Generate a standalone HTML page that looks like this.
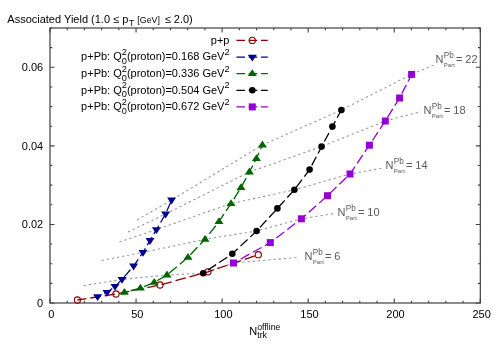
<!DOCTYPE html>
<html><head><meta charset="utf-8"><title>Associated Yield</title>
<style>
html,body{margin:0;padding:0;background:#fff;}
svg{display:block;will-change:transform;}
text{font-family:"Liberation Sans",sans-serif;}
</style></head><body>
<svg width="500" height="350" viewBox="0 0 500 350">
<rect width="500" height="350" fill="#fff"/>
<g opacity="0.999">
<g fill="none" stroke="#999" stroke-width="1.1" stroke-dasharray="2.3 2.9">
<polyline points="83.6,285.6 122,279.4 167,275 203.2,273.2 233.5,263 298,257.4"/>
<polyline points="101.6,260.5 143,252.4 205,239.3 256.6,231 301.4,218.8 334,213.6"/>
<polyline points="119.4,242 156.4,229.6 231,203.6 294.4,189.8 350,174 383,168"/>
<polyline points="128,232 165.6,214 249.4,172 321.6,146.6 385.3,121 421,111.6"/>
<polyline points="137,220 171.6,200 262.4,145 341.4,110 411.6,74.4 434,65"/>
</g>
<g stroke="#404040" stroke-width="1.1" fill="none">
<path d="M50.00 303.0v-4.5M50.00 28.0v4.5"/>
<path d="M67.21 303.0v-2.3M67.21 28.0v2.3"/>
<path d="M84.42 303.0v-2.3M84.42 28.0v2.3"/>
<path d="M101.64 303.0v-2.3M101.64 28.0v2.3"/>
<path d="M118.85 303.0v-2.3M118.85 28.0v2.3"/>
<path d="M136.06 303.0v-4.5M136.06 28.0v4.5"/>
<path d="M153.27 303.0v-2.3M153.27 28.0v2.3"/>
<path d="M170.48 303.0v-2.3M170.48 28.0v2.3"/>
<path d="M187.70 303.0v-2.3M187.70 28.0v2.3"/>
<path d="M204.91 303.0v-2.3M204.91 28.0v2.3"/>
<path d="M222.12 303.0v-4.5M222.12 28.0v4.5"/>
<path d="M239.33 303.0v-2.3M239.33 28.0v2.3"/>
<path d="M256.54 303.0v-2.3M256.54 28.0v2.3"/>
<path d="M273.76 303.0v-2.3M273.76 28.0v2.3"/>
<path d="M290.97 303.0v-2.3M290.97 28.0v2.3"/>
<path d="M308.18 303.0v-4.5M308.18 28.0v4.5"/>
<path d="M325.39 303.0v-2.3M325.39 28.0v2.3"/>
<path d="M342.60 303.0v-2.3M342.60 28.0v2.3"/>
<path d="M359.82 303.0v-2.3M359.82 28.0v2.3"/>
<path d="M377.03 303.0v-2.3M377.03 28.0v2.3"/>
<path d="M394.24 303.0v-4.5M394.24 28.0v4.5"/>
<path d="M411.45 303.0v-2.3M411.45 28.0v2.3"/>
<path d="M428.66 303.0v-2.3M428.66 28.0v2.3"/>
<path d="M445.88 303.0v-2.3M445.88 28.0v2.3"/>
<path d="M463.09 303.0v-2.3M463.09 28.0v2.3"/>
<path d="M480.30 303.0v-4.5M480.30 28.0v4.5"/>
<path d="M50.0 303.00h4.5M480.3 303.00h-4.5"/>
<path d="M50.0 283.36h2.3M480.3 283.36h-2.3"/>
<path d="M50.0 263.71h2.3M480.3 263.71h-2.3"/>
<path d="M50.0 244.07h2.3M480.3 244.07h-2.3"/>
<path d="M50.0 224.43h4.5M480.3 224.43h-4.5"/>
<path d="M50.0 204.79h2.3M480.3 204.79h-2.3"/>
<path d="M50.0 185.14h2.3M480.3 185.14h-2.3"/>
<path d="M50.0 165.50h2.3M480.3 165.50h-2.3"/>
<path d="M50.0 145.86h4.5M480.3 145.86h-4.5"/>
<path d="M50.0 126.21h2.3M480.3 126.21h-2.3"/>
<path d="M50.0 106.57h2.3M480.3 106.57h-2.3"/>
<path d="M50.0 86.93h2.3M480.3 86.93h-2.3"/>
<path d="M50.0 67.29h4.5M480.3 67.29h-4.5"/>
<path d="M50.0 47.64h2.3M480.3 47.64h-2.3"/>
<path d="M50.0 28.00h2.3M480.3 28.00h-2.3"/>
<rect x="50.0" y="28.0" width="430.3" height="275.0" stroke-width="1.2"/>
</g>
<g font-size="11" fill="#000">
<text x="51.30" y="318.4" text-anchor="middle">0</text>
<text x="137.36" y="318.4" text-anchor="middle">50</text>
<text x="223.42" y="318.4" text-anchor="middle">100</text>
<text x="309.48" y="318.4" text-anchor="middle">150</text>
<text x="395.54" y="318.4" text-anchor="middle">200</text>
<text x="481.60" y="318.4" text-anchor="middle">250</text>
<text x="43.2" y="307.00" text-anchor="end">0</text>
<text x="43.2" y="228.43" text-anchor="end">0.02</text>
<text x="43.2" y="149.86" text-anchor="end">0.04</text>
<text x="43.2" y="71.29" text-anchor="end">0.06</text>
</g>
<text x="7.3" y="22.6" font-size="11" fill="#000">Associated Yield (1.0 ≤ p<tspan font-size="8.8" dx="0.8" dy="3.3">T</tspan><tspan font-size="8.8" dx="0.6" dy="-2.9"> [GeV]</tspan><tspan dx="1.8" dy="-0.4"> ≤ 2.0)</tspan></text>
<text x="249.2" y="334.8" font-size="11" fill="#000">N<tspan font-size="8.8" dy="-5.2">offline</tspan></text>
<text x="257.2" y="338" font-size="8.8" fill="#000">trk</text>
<polyline fill="none" points="77.4,300 116,294 160,285 208,271.8 258.3,254.7" stroke="#8b0000" stroke-width="1.3" stroke-dasharray="10.5 4" stroke-dashoffset="1.4"/>
<circle cx="77.4" cy="300" r="3.1" fill="none" stroke="#8b0000" stroke-width="1.1"/>
<circle cx="116" cy="294" r="3.1" fill="none" stroke="#8b0000" stroke-width="1.1"/>
<circle cx="160" cy="285" r="3.1" fill="none" stroke="#8b0000" stroke-width="1.1"/>
<circle cx="208" cy="271.8" r="3.1" fill="none" stroke="#8b0000" stroke-width="1.1"/>
<circle cx="258.3" cy="254.7" r="3.1" fill="none" stroke="#8b0000" stroke-width="1.1"/>
<polyline fill="none" points="97.6,296.6 107,292.4 115,286.4 122,279.4 133.6,266 143,252.4 150,240.5 156.4,229.6 165.6,214 171.6,200" stroke="#00008b" stroke-width="1.3" stroke-dasharray="9.4 3.7" stroke-dashoffset="5.7"/>
<path d="M93.10 294.20L102.10 294.20L97.60 301.00Z" fill="#00008b"/>
<path d="M102.50 290.00L111.50 290.00L107.00 296.80Z" fill="#00008b"/>
<path d="M110.50 284.00L119.50 284.00L115.00 290.80Z" fill="#00008b"/>
<path d="M117.50 277.00L126.50 277.00L122.00 283.80Z" fill="#00008b"/>
<path d="M129.10 263.60L138.10 263.60L133.60 270.40Z" fill="#00008b"/>
<path d="M138.50 250.00L147.50 250.00L143.00 256.80Z" fill="#00008b"/>
<path d="M145.50 238.10L154.50 238.10L150.00 244.90Z" fill="#00008b"/>
<path d="M151.90 227.20L160.90 227.20L156.40 234.00Z" fill="#00008b"/>
<path d="M161.10 211.60L170.10 211.60L165.60 218.40Z" fill="#00008b"/>
<path d="M167.10 197.60L176.10 197.60L171.60 204.40Z" fill="#00008b"/>
<polyline fill="none" points="124.4,292.4 140.4,288.2 154.2,282.4 167,275 188,257.3 205,239.3 219,221.6 231,203.6 241,187.6 249.4,172 256.4,158.6 262.4,145" stroke="#006400" stroke-width="1.3" stroke-dasharray="10.25 3.9" stroke-dashoffset="7.65"/>
<path d="M119.90 294.80L128.90 294.80L124.40 288.00Z" fill="#006400"/>
<path d="M135.90 290.60L144.90 290.60L140.40 283.80Z" fill="#006400"/>
<path d="M149.70 284.80L158.70 284.80L154.20 278.00Z" fill="#006400"/>
<path d="M162.50 277.40L171.50 277.40L167.00 270.60Z" fill="#006400"/>
<path d="M183.50 259.70L192.50 259.70L188.00 252.90Z" fill="#006400"/>
<path d="M200.50 241.70L209.50 241.70L205.00 234.90Z" fill="#006400"/>
<path d="M214.50 224.00L223.50 224.00L219.00 217.20Z" fill="#006400"/>
<path d="M226.50 206.00L235.50 206.00L231.00 199.20Z" fill="#006400"/>
<path d="M236.50 190.00L245.50 190.00L241.00 183.20Z" fill="#006400"/>
<path d="M244.90 174.40L253.90 174.40L249.40 167.60Z" fill="#006400"/>
<path d="M251.90 161.00L260.90 161.00L256.40 154.20Z" fill="#006400"/>
<path d="M257.90 147.40L266.90 147.40L262.40 140.60Z" fill="#006400"/>
<polyline fill="none" points="203.2,273.2 232.3,253.8 256.6,231 277.4,208.4 294.4,189.8 309.6,169.6 321.6,146.6 332.4,126.6 341.4,110" stroke="#000000" stroke-width="1.3" stroke-dasharray="9.7 3.8" stroke-dashoffset="7.8"/>
<circle cx="203.2" cy="273.2" r="3.3" fill="#000000"/>
<circle cx="232.3" cy="253.8" r="3.3" fill="#000000"/>
<circle cx="256.6" cy="231" r="3.3" fill="#000000"/>
<circle cx="277.4" cy="208.4" r="3.3" fill="#000000"/>
<circle cx="294.4" cy="189.8" r="3.3" fill="#000000"/>
<circle cx="309.6" cy="169.6" r="3.3" fill="#000000"/>
<circle cx="321.6" cy="146.6" r="3.3" fill="#000000"/>
<circle cx="332.4" cy="126.6" r="3.3" fill="#000000"/>
<circle cx="341.4" cy="110" r="3.3" fill="#000000"/>
<polyline fill="none" points="233.5,263 270.3,242.6 301.4,218.8 327.5,195.7 350,174 369.4,145.2 385.3,121 399.6,98 411.6,74.4" stroke="#9400d3" stroke-width="1.3" stroke-dasharray="9.9 3.9" stroke-dashoffset="5.5"/>
<rect x="230.0" y="259.5" width="7" height="7" fill="#9400d3"/>
<rect x="266.8" y="239.1" width="7" height="7" fill="#9400d3"/>
<rect x="297.9" y="215.3" width="7" height="7" fill="#9400d3"/>
<rect x="324.0" y="192.2" width="7" height="7" fill="#9400d3"/>
<rect x="346.5" y="170.5" width="7" height="7" fill="#9400d3"/>
<rect x="365.9" y="141.7" width="7" height="7" fill="#9400d3"/>
<rect x="381.8" y="117.5" width="7" height="7" fill="#9400d3"/>
<rect x="396.1" y="94.5" width="7" height="7" fill="#9400d3"/>
<rect x="408.1" y="70.9" width="7" height="7" fill="#9400d3"/>
<text x="229.5" y="43.6" font-size="11" text-anchor="end">p+p</text>
<path d="M236.4 40.40H267.8" stroke="#8b0000" stroke-width="1.3" stroke-dasharray="8.6 3.7" fill="none"/>
<circle cx="252.3" cy="40.4" r="3.1" fill="none" stroke="#8b0000" stroke-width="1.1"/>
<text x="229.6" y="60.3" font-size="11" text-anchor="end">p+Pb: Q<tspan font-size="9.2" dy="-5.2">2</tspan><tspan font-size="9.2" dx="-5.1" dy="9">0</tspan><tspan dy="-3.8">(proton)=0.168 GeV</tspan><tspan font-size="9.2" dy="-5.2">2</tspan></text>
<path d="M236.4 57.10H267.8" stroke="#00008b" stroke-width="1.3" stroke-dasharray="8.6 3.7" fill="none"/>
<path d="M247.80 54.70L256.80 54.70L252.30 61.50Z" fill="#00008b"/>
<text x="229.6" y="76.9" font-size="11" text-anchor="end">p+Pb: Q<tspan font-size="9.2" dy="-5.2">2</tspan><tspan font-size="9.2" dx="-5.1" dy="9">0</tspan><tspan dy="-3.8">(proton)=0.336 GeV</tspan><tspan font-size="9.2" dy="-5.2">2</tspan></text>
<path d="M236.4 73.70H267.8" stroke="#006400" stroke-width="1.3" stroke-dasharray="8.6 3.7" fill="none"/>
<path d="M247.80 76.10L256.80 76.10L252.30 69.30Z" fill="#006400"/>
<text x="229.6" y="93.5" font-size="11" text-anchor="end">p+Pb: Q<tspan font-size="9.2" dy="-5.2">2</tspan><tspan font-size="9.2" dx="-5.1" dy="9">0</tspan><tspan dy="-3.8">(proton)=0.504 GeV</tspan><tspan font-size="9.2" dy="-5.2">2</tspan></text>
<path d="M236.4 90.30H267.8" stroke="#000000" stroke-width="1.3" stroke-dasharray="8.6 3.7" fill="none"/>
<circle cx="252.3" cy="90.3" r="3.3" fill="#000000"/>
<text x="229.6" y="110.1" font-size="11" text-anchor="end">p+Pb: Q<tspan font-size="9.2" dy="-5.2">2</tspan><tspan font-size="9.2" dx="-5.1" dy="9">0</tspan><tspan dy="-3.8">(proton)=0.672 GeV</tspan><tspan font-size="9.2" dy="-5.2">2</tspan></text>
<path d="M236.4 106.90H267.8" stroke="#9400d3" stroke-width="1.3" stroke-dasharray="8.6 3.7" fill="none"/>
<rect x="248.8" y="103.39999999999999" width="7" height="7" fill="#9400d3"/>
<g fill="#5a5a5a" font-size="11"><text x="304.6" y="260.0">N</text><text x="312.8" y="255.0" font-size="8.2">Pb</text><text x="312.8" y="264.0" font-size="6">Part</text><text x="324.9" y="260.0">= 6</text></g>
<g fill="#5a5a5a" font-size="11"><text x="337.6" y="216.4">N</text><text x="345.8" y="211.4" font-size="8.2">Pb</text><text x="345.8" y="220.4" font-size="6">Part</text><text x="357.9" y="216.4">= 10</text></g>
<g fill="#5a5a5a" font-size="11"><text x="385.6" y="169.4">N</text><text x="393.8" y="164.4" font-size="8.2">Pb</text><text x="393.8" y="173.4" font-size="6">Part</text><text x="405.9" y="169.4">= 14</text></g>
<g fill="#5a5a5a" font-size="11"><text x="423.6" y="114.0">N</text><text x="431.8" y="109.0" font-size="8.2">Pb</text><text x="431.8" y="118.0" font-size="6">Part</text><text x="443.9" y="114.0">= 18</text></g>
<g fill="#5a5a5a" font-size="11"><text x="435.6" y="63.0">N</text><text x="443.8" y="58.0" font-size="8.2">Pb</text><text x="443.8" y="67.0" font-size="6">Part</text><text x="455.9" y="63.0">= 22</text></g>
</g>
</svg></body></html>
